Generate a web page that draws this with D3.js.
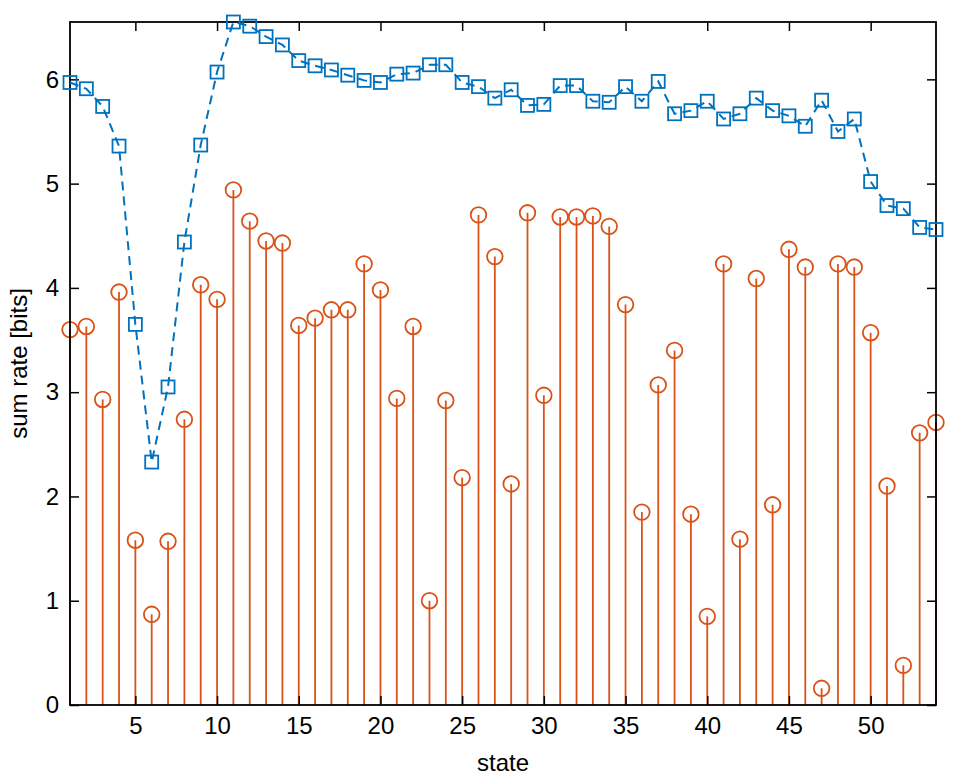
<!DOCTYPE html>
<html><head><meta charset="utf-8">
<script src="https://cdn.jsdelivr.net/npm/d3@7/dist/d3.min.js"></script>
<style>body{margin:0;background:#fff}svg{display:block}text{font-family:"Liberation Sans",Arial,Helvetica,sans-serif}</style>
</head><body><svg id="c" width="961" height="777"></svg>
<script>
const states = d3.range(1, 55);
const sumRateBlue = [5.97,5.91,5.74,5.36,3.65,2.33,3.05,4.44,5.37,6.07,6.55,6.51,6.41,6.33,6.18,6.13,6.09,6.04,5.99,5.97,6.05,6.06,6.14,6.14,5.97,5.93,5.82,5.90,5.75,5.76,5.94,5.94,5.79,5.78,5.93,5.79,5.98,5.67,5.70,5.79,5.62,5.67,5.82,5.70,5.65,5.55,5.80,5.50,5.62,5.02,4.79,4.76,4.58,4.56];
const sumRateOrange = [3.60,3.63,2.93,3.96,1.58,0.87,1.57,2.74,4.03,3.89,4.94,4.64,4.45,4.43,3.64,3.71,3.79,3.79,4.23,3.98,2.94,3.63,1.00,2.92,2.18,4.70,4.30,2.12,4.72,2.97,4.68,4.68,4.69,4.59,3.84,1.85,3.07,3.40,1.83,0.85,4.23,1.59,4.09,1.92,4.37,4.20,0.16,4.23,4.20,3.57,2.10,0.38,2.61,2.71];
const xTicks = [5,10,15,20,25,30,35,40,45,50];
const yTicks = [0,1,2,3,4,5,6];

const L = 70, R = 936, T = 22, B = 705;
const x = d3.scaleLinear().domain([1, 54]).range([L, R]);
const y = d3.scaleLinear().domain([0, 6.55]).range([B, T]);
const svg = d3.select("#c");
const blue = "#0072BD", orange = "#D95319";

// stems
svg.append("g").selectAll("line").data(states).join("line")
  .attr("x1", d => x(d)).attr("x2", d => x(d))
  .attr("y1", y(0)).attr("y2", (d, i) => y(sumRateOrange[i]))
  .attr("stroke", orange).attr("stroke-width", 1.8);
svg.append("g").selectAll("circle").data(states).join("circle")
  .attr("cx", d => x(d)).attr("cy", (d, i) => y(sumRateOrange[i]))
  .attr("r", 7.8).attr("fill", "none").attr("stroke", orange).attr("stroke-width", 1.8);

// axes box
const g = svg.append("g");
const fmt = d3.format("d");
const ax = (sel, axis) => { sel.call(axis); sel.select(".domain").remove(); sel.selectAll(".tick line").attr("stroke","#000").attr("stroke-width",1.5); sel.selectAll("text").attr("font-size",24).attr("fill","#000"); };
g.append("g").attr("transform", `translate(0,${B})`).call(s => ax(s, d3.axisBottom(x).tickValues(xTicks).tickFormat(fmt).tickSize(-9).tickPadding(12)));
g.append("g").attr("transform", `translate(0,${T})`).call(s => { ax(s, d3.axisTop(x).tickValues(xTicks).tickSize(-9)); s.selectAll("text").remove(); });
g.append("g").attr("transform", `translate(${L},0)`).call(s => ax(s, d3.axisLeft(y).tickValues(yTicks).tickFormat(fmt).tickSize(-9).tickPadding(11)));
g.append("g").attr("transform", `translate(${R},0)`).call(s => { ax(s, d3.axisRight(y).tickValues(yTicks).tickSize(-9)); s.selectAll("text").remove(); });
g.append("rect").attr("x", L).attr("y", T).attr("width", R - L).attr("height", B - T)
  .attr("fill", "none").attr("stroke", "#000").attr("stroke-width", 1.8);

// blue dashed line with squares
svg.append("path").datum(states)
  .attr("d", d3.line().x(d => x(d)).y((d, i) => y(sumRateBlue[i])))
  .attr("fill", "none").attr("stroke", blue).attr("stroke-width", 2).attr("stroke-dasharray", "9,6");
const s = 13;
svg.append("g").selectAll("rect").data(states).join("rect")
  .attr("x", d => x(d) - s / 2).attr("y", (d, i) => y(sumRateBlue[i]) - s / 2)
  .attr("width", s).attr("height", s).attr("fill", "none").attr("stroke", blue).attr("stroke-width", 1.8);

// labels
svg.append("text").attr("x", (L + R) / 2).attr("y", 771).attr("text-anchor", "middle").attr("font-size", 24).text("state");
svg.append("text").attr("transform", `translate(27,${(T + B) / 2}) rotate(-90)`).attr("text-anchor", "middle").attr("font-size", 24).text("sum rate [bits]");
</script></body></html>
